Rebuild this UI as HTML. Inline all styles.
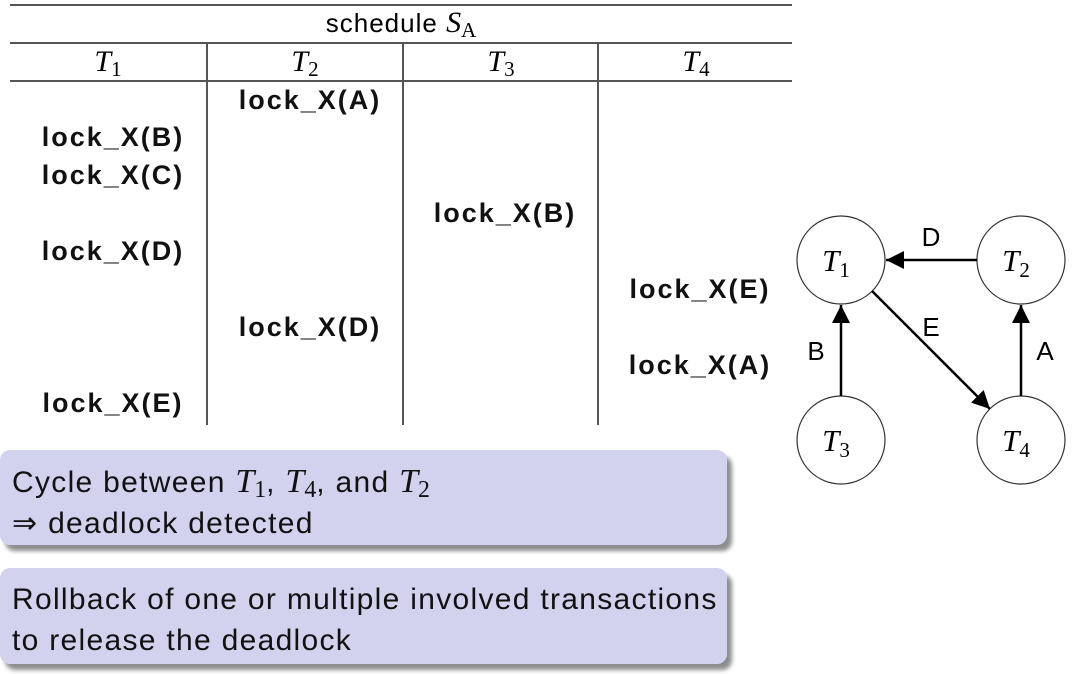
<!DOCTYPE html>
<html><head><style>
body{margin:0;width:1081px;height:674px;background:#fff;position:relative;overflow:hidden;font-family:"Liberation Sans",sans-serif;}
.a{position:absolute;}
.hl{position:absolute;height:2px;background:#555;}
.vl{position:absolute;width:2px;background:#555;top:43px;height:382px;}
.m{font-family:"Liberation Serif",serif;font-style:italic;letter-spacing:0;}
.sub{font-size:70%;font-style:normal;position:relative;top:5px;line-height:0;}
.lk{position:absolute;font-weight:bold;font-size:27px;letter-spacing:2px;width:196px;text-align:center;line-height:30px;color:#111;}
.box{position:absolute;left:0;width:727px;background:#d2d2ef;border-radius:10px;box-shadow:5px 6px 4px rgba(0,0,0,0.45);font-size:30px;letter-spacing:1.3px;line-height:41px;padding-left:12px;box-sizing:border-box;color:#111;}
.box .m{font-size:34px;}
</style></head><body>
<div class="hl" style="left:10px;width:782px;top:4px"></div>
<div class="hl" style="left:10px;width:782px;top:42px"></div>
<div class="hl" style="left:10px;width:782px;top:80px"></div>
<div class="vl" style="left:206px"></div>
<div class="vl" style="left:402px"></div>
<div class="vl" style="left:597px"></div>
<div class="a" style="left:10px;width:782px;top:6px;text-align:center;font-size:26px;letter-spacing:1px;line-height:34px">schedule <span class="m" style="font-size:30px">S<span class="sub">A</span></span></div>
<div class="a m" style="left:10px;width:196px;top:44px;text-align:center;font-size:30px;line-height:36px">T<span class="sub">1</span></div>
<div class="a m" style="left:207px;width:196px;top:44px;text-align:center;font-size:30px;line-height:36px">T<span class="sub">2</span></div>
<div class="a m" style="left:403px;width:196px;top:44px;text-align:center;font-size:30px;line-height:36px">T<span class="sub">3</span></div>
<div class="a m" style="left:598px;width:196px;top:44px;text-align:center;font-size:30px;line-height:36px">T<span class="sub">4</span></div>
<div class="lk" style="left:212px;top:85px">lock_X(A)</div>
<div class="lk" style="left:15px;top:122px">lock_X(B)</div>
<div class="lk" style="left:15px;top:160px">lock_X(C)</div>
<div class="lk" style="left:407px;top:198px">lock_X(B)</div>
<div class="lk" style="left:15px;top:236px">lock_X(D)</div>
<div class="lk" style="left:602px;top:274px">lock_X(E)</div>
<div class="lk" style="left:212px;top:312px">lock_X(D)</div>
<div class="lk" style="left:602px;top:350px">lock_X(A)</div>
<div class="lk" style="left:15px;top:388px">lock_X(E)</div>
<div class="box" style="top:450px;height:95px;padding-top:11px">Cycle between <span class="m">T<span class="sub">1</span></span>, <span class="m">T<span class="sub">4</span></span>, and <span class="m">T<span class="sub">2</span></span><br>⇒ deadlock detected</div>
<div class="box" style="top:568px;height:96px;padding-top:11px">Rollback of one or multiple involved transactions<br>to release the deadlock</div>
<svg class="a" style="left:0;top:0" width="1081" height="674">
<defs>
<marker id="ah" viewBox="0 0 10 10" markerWidth="18" markerHeight="18" refX="10" refY="5" orient="auto" markerUnits="userSpaceOnUse"><path d="M0,0 L10,5 L0,10 z" fill="#000"/></marker></defs>
<g fill="none" stroke="#333" stroke-width="1.2">
<circle cx="841" cy="260" r="44"/><circle cx="1021" cy="260" r="44"/>
<circle cx="841" cy="440" r="44"/><circle cx="1021" cy="440" r="44"/></g>
<g stroke="#000" stroke-width="2.5">
<line x1="977" y1="260" x2="886" y2="260" marker-end="url(#ah)"/>
<line x1="841" y1="396" x2="841" y2="305" marker-end="url(#ah)"/>
<line x1="872" y1="291" x2="990" y2="409" marker-end="url(#ah)"/>
<line x1="1021" y1="396" x2="1021" y2="305" marker-end="url(#ah)"/>
</g>
<g font-family="Liberation Serif,serif" font-style="italic" font-size="31" text-anchor="middle">
<text x="836" y="271">T<tspan font-size="21" font-style="normal" dy="6">1</tspan></text>
<text x="1016" y="271">T<tspan font-size="21" font-style="normal" dy="6">2</tspan></text>
<text x="836" y="451">T<tspan font-size="21" font-style="normal" dy="6">3</tspan></text>
<text x="1016" y="451">T<tspan font-size="21" font-style="normal" dy="6">4</tspan></text>
</g>
<g font-family="Liberation Sans,sans-serif" font-size="26" text-anchor="middle">
<text x="931" y="246">D</text><text x="931" y="336">E</text>
<text x="816" y="360">B</text><text x="1045" y="360">A</text></g>
</svg>
</body></html>
